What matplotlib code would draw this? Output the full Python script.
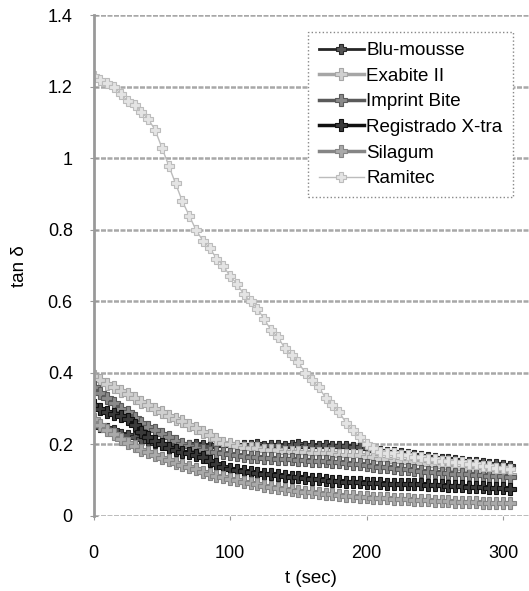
import numpy as np
from matplotlib import pyplot as plt

plt.rcParams['font.family'] = ['Liberation Sans', 'DejaVu Sans']

# tan delta sampled every 5 s, t = 0 ... 305 s
blu_mousse = [0.26, 0.25, 0.245, 0.24, 0.23, 0.225, 0.22, 0.215, 0.21, 0.205,
              0.2, 0.198, 0.2, 0.197, 0.199, 0.2, 0.198, 0.197, 0.199, 0.2,
              0.198, 0.197, 0.199, 0.198, 0.2, 0.197, 0.198, 0.199, 0.197, 0.198,
              0.2, 0.197, 0.198, 0.196, 0.198, 0.197, 0.195, 0.196, 0.194, 0.193,
              0.19, 0.185, 0.182, 0.18, 0.178, 0.175, 0.172, 0.17, 0.168, 0.165,
              0.163, 0.16, 0.158, 0.156, 0.154, 0.152, 0.15, 0.148, 0.146, 0.144,
              0.142, 0.14]
exabite = [0.39, 0.38, 0.37, 0.36, 0.35, 0.34, 0.33, 0.32, 0.31, 0.30,
           0.29, 0.28, 0.27, 0.265, 0.255, 0.245, 0.235, 0.225, 0.215, 0.205,
           0.20, 0.195, 0.19, 0.19, 0.19, 0.185, 0.185, 0.185, 0.18, 0.18,
           0.18, 0.18, 0.175, 0.175, 0.175, 0.175, 0.17, 0.17, 0.17, 0.17,
           0.165, 0.165, 0.16, 0.16, 0.155, 0.155, 0.15, 0.15, 0.148, 0.145,
           0.143, 0.14, 0.138, 0.135, 0.133, 0.13, 0.128, 0.125, 0.123, 0.12,
           0.118, 0.115]
imprint = [0.36, 0.345, 0.33, 0.315, 0.30, 0.29, 0.275, 0.26, 0.25, 0.24,
           0.23, 0.22, 0.21, 0.2, 0.195, 0.19, 0.185, 0.18, 0.178, 0.175,
           0.172, 0.17, 0.168, 0.166, 0.165, 0.163, 0.162, 0.16, 0.16, 0.158,
           0.157, 0.156, 0.155, 0.154, 0.153, 0.152, 0.15, 0.148, 0.146, 0.144,
           0.142, 0.14, 0.138, 0.136, 0.134, 0.132, 0.13, 0.128, 0.126, 0.124,
           0.122, 0.12, 0.119, 0.118, 0.117, 0.116, 0.115, 0.114, 0.113, 0.112,
           0.111, 0.11]
registrado = [0.31, 0.30, 0.29, 0.285, 0.28, 0.27, 0.255, 0.235, 0.22, 0.21,
              0.2, 0.19, 0.185, 0.18, 0.175, 0.17, 0.165, 0.155, 0.145, 0.138,
              0.132, 0.128, 0.125, 0.122, 0.12, 0.118, 0.116, 0.114, 0.112, 0.11,
              0.108, 0.106, 0.104, 0.102, 0.1, 0.099, 0.098, 0.096, 0.095, 0.094,
              0.093, 0.092, 0.091, 0.09, 0.09, 0.089, 0.089, 0.088, 0.088, 0.087,
              0.087, 0.086, 0.085, 0.084, 0.083, 0.082, 0.081, 0.08, 0.079, 0.078,
              0.077, 0.076]
silagum = [0.27, 0.255, 0.24, 0.23, 0.215, 0.205, 0.195, 0.185, 0.178, 0.17,
           0.163, 0.156, 0.149, 0.142, 0.136, 0.13, 0.124, 0.118, 0.113, 0.108,
           0.104, 0.1, 0.096, 0.092, 0.088, 0.085, 0.082, 0.079, 0.076, 0.073,
           0.07, 0.068, 0.066, 0.064, 0.062, 0.06, 0.058, 0.056, 0.055, 0.053,
           0.052, 0.051, 0.05, 0.049, 0.048, 0.047, 0.046, 0.045, 0.045, 0.044,
           0.043, 0.042, 0.041, 0.04, 0.04, 0.039, 0.038, 0.037, 0.036, 0.036,
           0.035, 0.035]
ramitec = [1.23, 1.22, 1.21, 1.20, 1.18, 1.16, 1.15, 1.13, 1.11, 1.08,
           1.03, 0.98, 0.93, 0.88, 0.84, 0.80, 0.77, 0.75, 0.72, 0.70,
           0.67, 0.65, 0.62, 0.60, 0.58, 0.55, 0.52, 0.50, 0.47, 0.45,
           0.43, 0.40, 0.38, 0.36, 0.33, 0.31, 0.29, 0.26, 0.24, 0.22,
           0.20, 0.19, 0.18, 0.175, 0.175, 0.17, 0.17, 0.165, 0.165, 0.16,
           0.16, 0.155, 0.155, 0.15, 0.15, 0.145, 0.145, 0.14, 0.14, 0.135,
           0.135, 0.13]

# name, values, line colour, face colour, line width, marker size
series = [('Blu-mousse', blu_mousse, '#262626', '#555555', 2.0, 7),
          ('Exabite II', exabite, '#a6a6a6', '#d0d0d0', 2.5, 9),
          ('Imprint Bite', imprint, '#5a5a5a', '#8a8a8a', 2.5, 9),
          ('Registrado X-tra', registrado, '#101010', '#3a3a3a', 2.5, 9),
          ('Silagum', silagum, '#858585', '#aaaaaa', 2.5, 9),
          ('Ramitec', ramitec, '#bcbcbc', '#e4e4e4', 1.0, 6.5)]

fig = plt.figure(figsize=(5.29, 5.91), dpi=100)
ax = fig.add_axes([0.177, 0.127, 0.823, 0.847])

for name, vals, col, face, lw, ms in series:
    t = np.arange(len(vals)) * 5
    ax.plot(t, vals, color=col, linewidth=lw, marker='P', markersize=ms,
            markeredgewidth=0.8, markeredgecolor=col, markerfacecolor=face,
            label=name)

ax.set_xlim(0, 319)
ax.set_ylim(0, 1.4)
ax.set_xticks([0, 100, 200, 300])
ax.set_yticks([0, 0.2, 0.4, 0.6, 0.8, 1.0, 1.2, 1.4])
ax.set_yticklabels(['0', '0.2', '0.4', '0.6', '0.8', '1', '1.2', '1.4'])
ax.grid(axis='y', color='#a8a8a8', linewidth=1.8, linestyle=(0, (2, 0.6)))
ax.set_axisbelow(True)
for s in ['top', 'right', 'bottom']:
    ax.spines[s].set_visible(False)
ax.spines['left'].set_color('#999999')
ax.spines['left'].set_linewidth(2)
ax.tick_params(axis='y', direction='inout', length=6, color='#999999',
               pad=12, labelsize=13)
ax.tick_params(axis='x', direction='out', length=3, color='#999999',
               pad=18, labelsize=13)

ax.set_xlabel('t (sec)', fontsize=13.5, labelpad=6)
ax.set_ylabel('tan δ', fontsize=13.5, labelpad=14)

leg = ax.legend(loc='upper right', bbox_to_anchor=(0.963, 0.967), fontsize=13.5,
                handlelength=2.4, handletextpad=0.15, labelspacing=0.45,
                borderpad=0.55, borderaxespad=0, fancybox=False, framealpha=1)
leg.get_frame().set_edgecolor('#888888')
leg.get_frame().set_linestyle(':')

fig.savefig('out.png', dpi=100)
